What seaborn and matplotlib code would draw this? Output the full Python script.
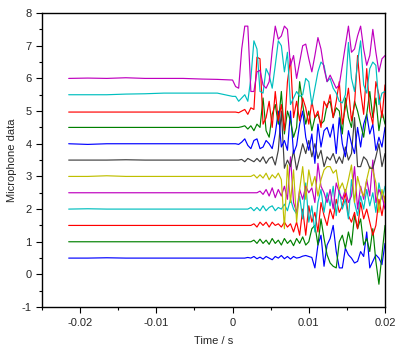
import numpy as np
import pandas as pd
import matplotlib
matplotlib.use("Agg")
import matplotlib.pyplot as plt
import seaborn as sns
from matplotlib.ticker import MultipleLocator

# time axis (s)
t_pre = [-0.0215, -0.019, -0.0165, -0.014, -0.0115, -0.009, -0.0065, -0.004, -0.002]
t_post = [round(0.0004 * k, 4) for k in range(51)]
times = t_pre + t_post

offsets = [0.5, 1.0, 1.5, 2.0, 2.5, 3.0, 3.5, 4.0, 4.5, 5.0, 5.5, 6.0]
colors = ["#0000ff", "#008000", "#ff0000", "#00bfbf", "#bf00bf", "#bfbf00",
          "#404040", "#0000ff", "#008000", "#ff0000", "#00bfbf", "#bf00bf"]

mic_050 = [0.50, 0.50, 0.51, 0.50, 0.50, 0.50, 0.50, 0.50, 0.50,
           0.50, 0.50, 0.50, 0.50, 0.50, 0.52, 0.50, 0.55, 0.48, 0.53,
           0.47, 0.55, 0.50, 0.45, 0.55, 0.50, 0.58, 0.48, 0.55, 0.47,
           0.55, 0.50, 0.52, 0.56, 0.58, 0.55, 0.52, 0.20, 0.90, 1.20,
           0.25, 0.90, 1.10, 1.50, 0.70, 0.20, 0.20, 0.80, 0.60, 0.50,
           0.35, 0.40, 0.70, 0.55, 1.30, 0.20, 0.40, 0.60, 0.50, 0.30, 0.95]
mic_100 = [1.00, 1.00, 1.00, 1.00, 1.00, 1.00, 1.00, 1.00, 1.00,
           1.00, 1.00, 1.00, 1.00, 1.00, 1.00, 1.00, 1.05, 0.95, 1.08,
           0.95, 1.05, 0.92, 1.10, 0.95, 1.05, 0.90, 1.10, 0.95, 1.05,
           0.88, 1.10, 0.95, 1.15, 0.90, 1.00, 1.40, 1.50, 0.90, 1.70,
           1.10, 0.60, 0.35, 0.25, 0.20, 1.00, 1.20, 0.80, 1.30, 0.90,
           1.80, 1.40, 1.70, 0.90, 1.10, 0.70, 1.40, 0.40, -0.30, 0.60, 1.50]
mic_150 = [1.50, 1.50, 1.50, 1.50, 1.50, 1.50, 1.50, 1.50, 1.50,
           1.50, 1.50, 1.50, 1.50, 1.50, 1.50, 1.50, 1.55, 1.45, 1.60,
           1.50, 1.60, 1.45, 1.60, 1.50, 1.55, 1.45, 1.60, 1.45, 1.55,
           1.30, 1.60, 1.20, 2.00, 1.20, 2.10, 1.60, 1.90, 1.30, 2.20,
           1.80, 1.50, 2.00, 1.70, 2.30, 1.90, 2.10, 2.50, 1.80, 1.60,
           1.90, 1.40, 2.20, 1.70, 2.00, 1.60, 1.20, 1.50, 2.30, 1.80, 2.40]
mic_200 = [2.00, 2.01, 2.00, 2.00, 2.00, 2.00, 2.00, 2.00, 2.00,
           2.00, 2.00, 2.00, 2.00, 2.00, 2.00, 2.05, 1.95, 2.05, 1.95,
           2.10, 1.95, 2.05, 2.10, 1.95, 2.05, 2.00, 2.15, 1.95, 2.30,
           2.00, 1.85, 2.40, 1.70, 2.80, 1.60, 2.10, 1.30, 2.20, 2.60,
           1.90, 2.50, 2.10, 2.70, 1.80, 2.60, 2.00, 2.30, 1.70, 2.90,
           2.20, 1.80, 2.40, 2.00, 2.60, 2.10, 2.50, 1.90, 2.80, 2.30, 2.70]
mic_250 = [2.50, 2.50, 2.50, 2.50, 2.50, 2.50, 2.50, 2.50, 2.50,
           2.50, 2.50, 2.50, 2.50, 2.50, 2.50, 2.50, 2.50, 2.50, 2.55,
           2.45, 2.60, 2.40, 2.65, 2.35, 2.60, 2.40, 2.70, 2.30, 3.60,
           2.20, 1.90, 2.60, 2.30, 2.70, 2.50, 2.65, 2.20, 3.40, 2.70,
           2.50, 2.20, 2.60, 2.00, 2.80, 2.50, 2.30, 2.60, 2.20, 2.40,
           3.30, 2.00, 2.70, 2.30, 2.90, 2.40, 3.50, 2.20, 2.60, 2.40, 2.00]
mic_300 = [3.00, 3.00, 3.02, 3.00, 3.00, 3.00, 3.00, 3.00, 3.00,
           3.00, 3.00, 3.00, 3.00, 3.00, 3.00, 3.00, 3.05, 2.95, 3.05,
           2.95, 3.10, 2.90, 3.05, 2.95, 3.10, 2.90, 1.40, 3.35, 2.20,
           3.20, 1.60, 2.60, 3.30, 2.30, 3.20, 2.70, 3.00, 2.40, 2.90,
           3.20, 3.30, 3.30, 3.10, 3.20, 2.60, 2.80, 2.50, 2.90, 3.35,
           2.20, 3.00, 2.60, 2.40, 2.90, 3.30, 3.20, 2.80, 1.90, 2.60, 2.20]
mic_350 = [3.50, 3.50, 3.50, 3.51, 3.50, 3.50, 3.50, 3.50, 3.50,
           3.50, 3.50, 3.50, 3.52, 3.45, 3.55, 3.50, 3.45, 3.55, 3.45,
           3.60, 3.40, 3.55, 3.60, 3.35, 3.80, 5.00, 3.25, 3.50, 3.30,
           3.80, 3.20, 3.60, 4.00, 3.70, 4.10, 3.60, 4.00, 3.55, 3.80,
           3.30, 3.60, 3.50, 3.70, 3.40, 3.60, 3.40, 3.90, 3.50, 3.70,
           4.80, 3.30, 3.30, 3.60, 3.50, 3.25, 3.25, 3.60, 4.00, 3.30, 3.70]
mic_400 = [4.00, 3.98, 4.00, 4.00, 4.00, 4.00, 4.00, 4.00, 4.00,
           4.00, 4.00, 3.98, 4.05, 4.15, 3.95, 3.85, 4.10, 4.15, 3.85,
           3.90, 4.10, 4.00, 3.85, 4.30, 5.00, 3.90, 4.10, 3.80, 5.00,
           3.70, 3.95, 4.60, 5.00, 4.20, 3.80, 4.30, 3.40, 4.60, 3.90,
           4.40, 4.50, 4.20, 4.60, 3.70, 4.80, 4.00, 3.60, 4.40, 4.00,
           3.70, 4.50, 3.90, 4.60, 4.90, 4.30, 4.60, 3.80, 4.20, 3.90, 4.50]
mic_450 = [4.50, 4.50, 4.50, 4.50, 4.50, 4.50, 4.50, 4.50, 4.50,
           4.50, 4.50, 4.50, 4.52, 4.55, 4.45, 4.55, 4.40, 4.60, 4.50,
           5.40, 4.40, 4.20, 4.90, 5.20, 4.60, 5.60, 4.30, 5.00, 4.70,
           4.20, 4.50, 5.90, 5.20, 4.60, 5.00, 4.40, 4.80, 4.90, 4.60,
           4.70, 5.20, 5.30, 4.80, 5.10, 5.00, 4.30, 5.40, 4.80, 4.50,
           5.30, 5.00, 4.60, 4.20, 4.90, 5.60, 4.80, 5.40, 4.40, 5.00, 4.60]
mic_500 = [4.97, 4.97, 4.97, 4.97, 4.97, 4.97, 4.97, 4.97, 4.97,
           4.97, 4.97, 4.95, 5.00, 5.05, 4.90, 5.10, 5.05, 6.65, 6.60,
           4.60, 4.80, 5.30, 4.50, 5.60, 4.70, 5.20, 4.40, 5.90, 6.60,
           4.80, 5.30, 4.70, 5.40, 5.10, 4.60, 5.30, 4.80, 5.00, 4.50,
           5.30, 5.10, 5.50, 4.80, 5.30, 5.90, 4.60, 5.10, 5.70, 4.70,
           5.20, 6.70, 5.60, 4.90, 6.30, 5.00, 4.60, 5.90, 5.50, 4.80, 5.80]
mic_550 = [5.50, 5.50, 5.50, 5.52, 5.53, 5.55, 5.55, 5.55, 5.55,
           5.45, 5.45, 5.30, 5.40, 5.50, 5.30, 6.00, 7.15, 6.90, 5.60,
           5.55, 6.30, 6.10, 5.70, 6.40, 7.15, 7.00, 6.20, 6.80, 5.20,
           5.40, 5.60, 5.45, 5.50, 6.00, 5.90, 5.20, 5.70, 6.20, 6.50,
           6.40, 5.90, 6.00, 5.70, 5.55, 5.30, 5.25, 5.50, 7.10, 6.00,
           5.60, 6.50, 7.15, 5.80, 5.55, 6.30, 6.50, 6.40, 5.20, 5.55, 5.60]
mic_600 = [6.00, 6.01, 6.00, 6.02, 6.00, 6.00, 6.00, 5.98, 5.97,
           5.95, 5.75, 5.70, 6.90, 7.60, 7.60, 5.60, 5.60, 6.20, 6.25,
           5.80, 5.70, 5.90, 6.85, 7.60, 7.20, 7.30, 7.60, 7.50, 6.40,
           6.70, 6.00, 6.50, 7.00, 7.05, 6.60, 6.20, 6.70, 7.25, 6.90,
           6.30, 5.90, 6.10, 5.90, 5.70, 5.80, 6.40, 7.00, 7.60, 6.80,
           6.90, 7.30, 7.60, 6.90, 6.40, 6.70, 7.50, 6.80, 6.20, 6.60, 6.70]

series = [mic_050, mic_100, mic_150, mic_200, mic_250, mic_300,
          mic_350, mic_400, mic_450, mic_500, mic_550, mic_600]

rows = []
for i, vals in enumerate(series):
    for tt, v in zip(times, vals):
        rows.append({"t": tt, "v": v, "mic": i})
df = pd.DataFrame(rows)

sns.set_style("ticks")
plt.rcParams["font.family"] = ["Liberation Sans", "DejaVu Sans"]

fig = plt.figure(figsize=(4.04, 3.53), dpi=100)
ax = fig.add_axes([0.104, 0.130, 0.849, 0.833])

sns.lineplot(data=df, x="t", y="v", hue="mic", palette=colors,
             estimator=None, sort=False, legend=False, linewidth=0.85, ax=ax)

ax.set_xlim(-0.025, 0.02)
ax.set_ylim(-1, 8)
ax.xaxis.set_minor_locator(MultipleLocator(0.005))
ax.yaxis.set_minor_locator(MultipleLocator(0.5))
ax.set_xticks([-0.02, -0.01, 0, 0.01, 0.02])
ax.set_xticklabels(["-0.02", "-0.01", "0", "0.01", "0.02"])
ax.set_yticks(list(range(-1, 9)))
ax.set_yticklabels([str(v) for v in range(-1, 9)])
ax.tick_params(which="major", length=4, width=0.8, labelsize=8, color="black", direction="out")
ax.tick_params(which="minor", length=2.5, width=0.8, color="black", direction="out")
for s in ax.spines.values():
    s.set_visible(True)
    s.set_color("black")
    s.set_linewidth(1.0)
ax.set_xlabel("Time / s", fontsize=8, labelpad=6)
ax.set_ylabel("Microphone data", fontsize=8, labelpad=3)

fig.savefig("out.png", dpi=100)
